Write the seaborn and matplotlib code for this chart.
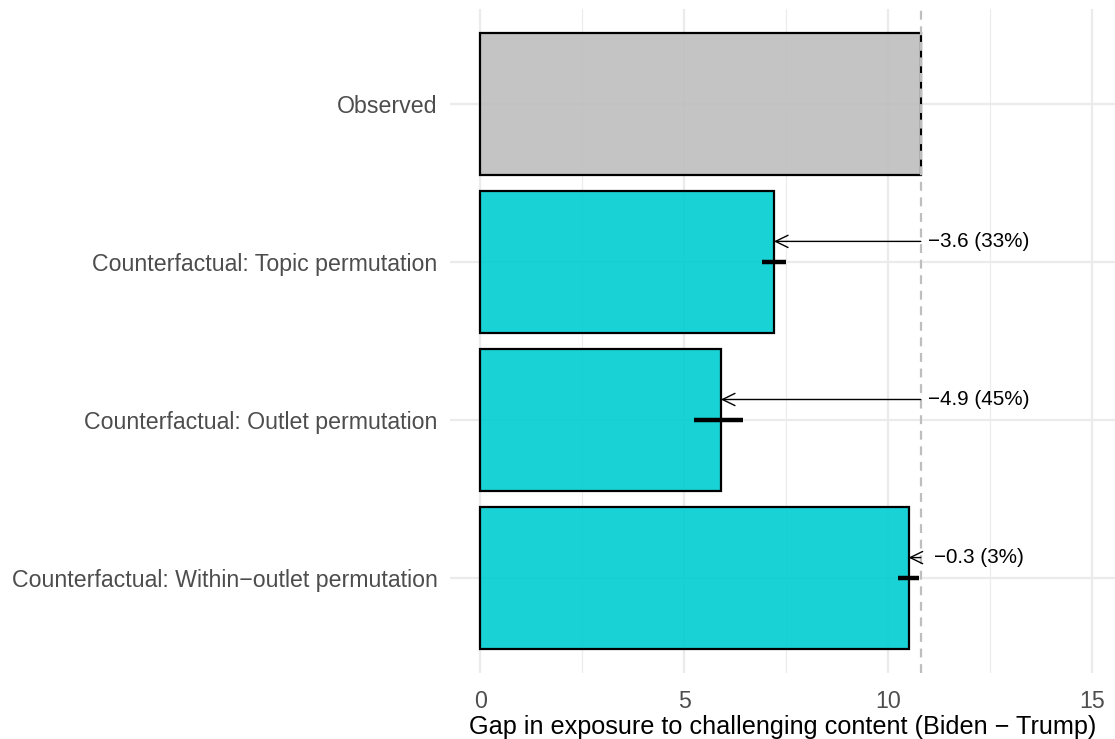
import numpy as np
import pandas as pd
import matplotlib
matplotlib.use("Agg")
import matplotlib.pyplot as plt
from matplotlib.colors import to_rgba
import seaborn as sns

# Gap in exposure to challenging content, observed vs. counterfactual permutations
categories = [
    "Observed",
    "Counterfactual: Topic permutation",
    "Counterfactual: Outlet permutation",
    "Counterfactual: Within\u2212outlet permutation",
]
gaps = [10.8, 7.2, 5.9, 10.5]
ci_low = [np.nan, 6.9, 5.25, 10.25]
ci_high = [np.nan, 7.5, 6.45, 10.75]
observed_gap = 10.8
changes = [np.nan, -3.6, -4.9, -0.3]
change_pct = [np.nan, 33, 45, 3]
x_ticks = [0, 5, 10, 15]

df = pd.DataFrame({"scenario": categories, "gap": gaps,
                   "lo": ci_low, "hi": ci_high,
                   "change": changes, "pct": change_pct})
fills = {c: ("#BEBEBE" if c == "Observed" else "#00CED1") for c in categories}

sns.set_theme(style="white")
plt.rcParams["font.family"] = ["Liberation Sans", "DejaVu Sans"]

fig = plt.figure(figsize=(11.15, 7.39), dpi=100)
ax = fig.add_axes([450 / 1115, 1 - 673 / 739, 1 - 450 / 1115, (673 - 9) / 739])

# gridlines behind everything
ax.set_axisbelow(True)
for v in [0, 5, 10, 15]:
    ax.axvline(v, color="#EBEBEB", lw=1.6, zorder=0)
for v in [2.5, 7.5, 12.5]:
    ax.axvline(v, color="#EBEBEB", lw=0.8, zorder=0)
for i in range(len(categories)):
    ax.axhline(i, color="#EBEBEB", lw=1.6, zorder=0)

sns.barplot(data=df, x="gap", y="scenario", hue="scenario", palette=fills,
            order=categories, hue_order=categories, orient="h", width=0.9,
            dodge=False, legend=False, edgecolor="black", linewidth=1.6,
            saturation=1, errorbar=None, ax=ax, zorder=2)
for patch in ax.patches:
    fc = patch.get_facecolor()
    patch.set_facecolor(to_rgba(fc[:3], 0.9))
    patch.set_edgecolor("black")

# confidence intervals of the counterfactual gaps
ci = df.dropna(subset=["lo"])
ax.hlines([categories.index(s) for s in ci["scenario"]], ci["lo"], ci["hi"],
          color="black", lw=3.2, zorder=4)

# reference line at the observed gap
ax.axvline(observed_gap, color="#BEBEBE", lw=1.6, linestyle=(0, (4, 3)), zorder=5)

# arrows and labels for the reduction relative to the observed gap
for _, row in df.dropna(subset=["change"]).iterrows():
    y = categories.index(row["scenario"]) - 0.13
    ax.annotate("", xy=(row["gap"], y), xytext=(observed_gap, y),
                arrowprops=dict(arrowstyle="->,head_length=0.45,head_width=0.22",
                                lw=1.0, color="black", shrinkA=0, shrinkB=0,
                                mutation_scale=20), zorder=6)
    label = f"\u2212{abs(row['change']):.1f} ({int(row['pct'])}%)"
    ax.text(12.23, y, label, ha="center", va="center", fontsize=14.9,
            color="black", zorder=6)

ax.set_xlim(-0.74, 15.56)
ax.set_ylim(3.6, -0.6)
ax.set_xticks(x_ticks)
ax.set_xticklabels([str(t) for t in x_ticks])
ax.tick_params(axis="both", length=0, labelsize=16.7, labelcolor="#4D4D4D")
ax.tick_params(axis="x", pad=12)
ax.tick_params(axis="y", pad=9)
ax.set_ylabel("")
ax.set_xlabel("Gap in exposure to challenging content (Biden \u2212 Trump)",
              fontsize=18.2, color="black", labelpad=1.5)
for s in ax.spines.values():
    s.set_visible(False)
ax.grid(False)

fig.savefig("out.png", dpi=100)
